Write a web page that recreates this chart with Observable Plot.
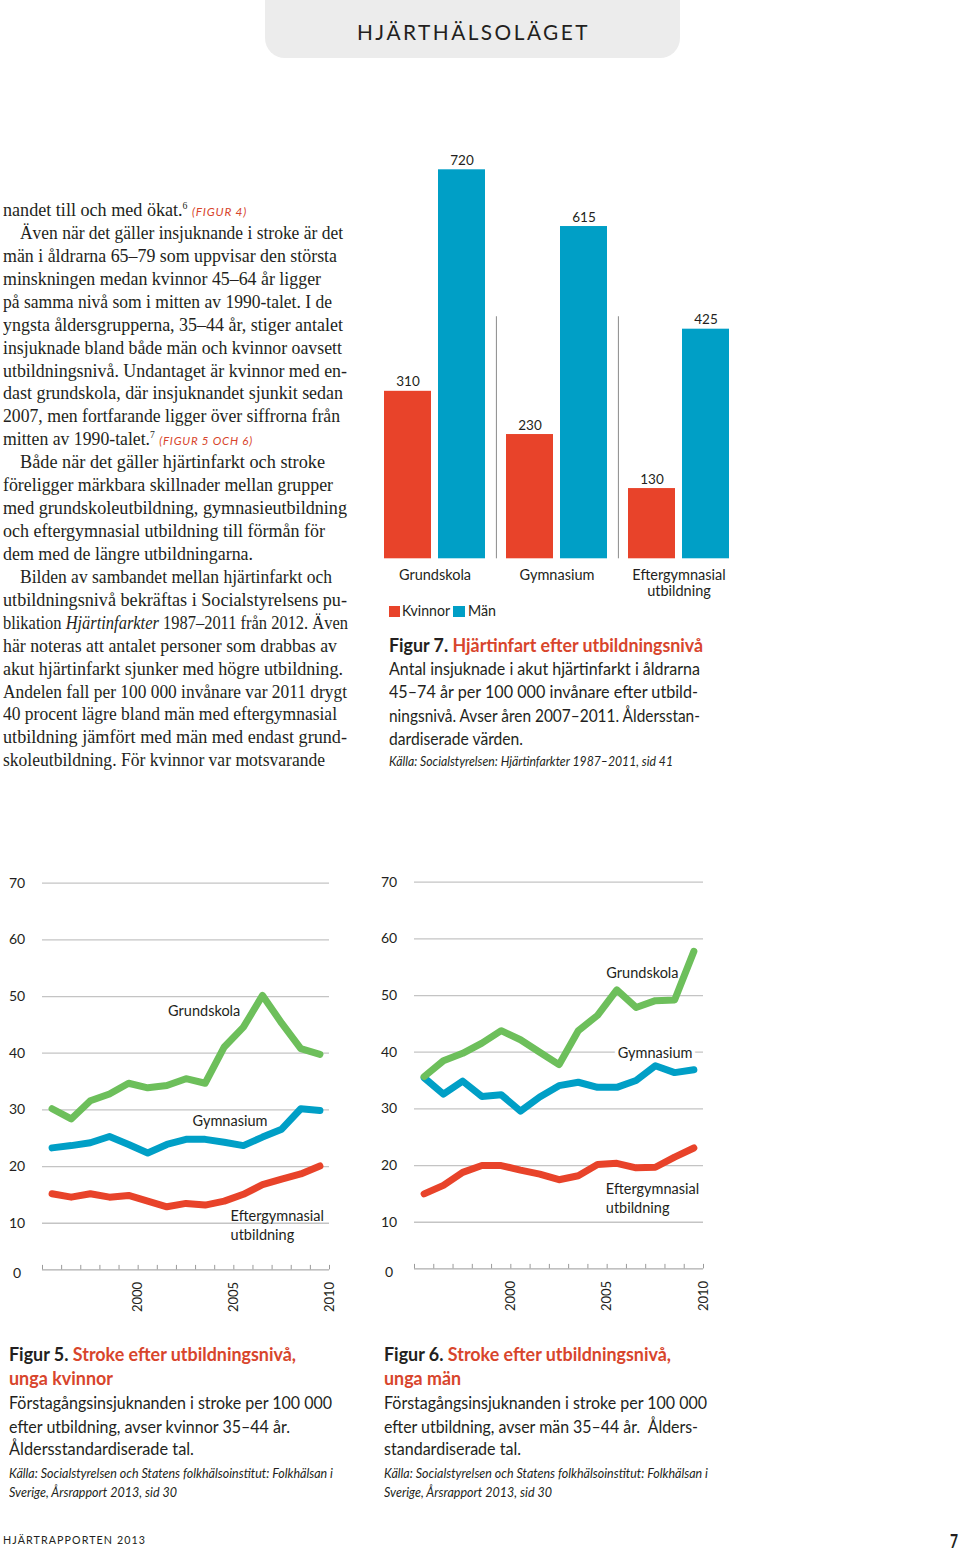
<!DOCTYPE html>
<html>
<head>
<meta charset="utf-8">
<script src="https://cdn.jsdelivr.net/npm/d3@7"></script>
<script src="https://cdn.jsdelivr.net/npm/@observablehq/plot@0.6"></script>
<style>
html,body{margin:0;padding:0;background:#fff;}
#page{position:relative;width:960px;height:1550px;overflow:hidden;font-family:Lato,"Open Sans",sans-serif;color:#231f20;}
.ln{position:absolute;white-space:nowrap;transform-origin:0 50%;}
.serif{font-family:"Liberation Serif",serif;font-size:18.5px;line-height:22px;}
.cap{font-size:18px;line-height:22px;}
.src{font-size:13px;font-style:italic;line-height:18px;}
.hdr{font-size:21px;line-height:26px;letter-spacing:2.5px;}
.foot{font-size:12px;line-height:16px;letter-spacing:1.2px;}
.pg{font-size:18px;line-height:22px;font-weight:bold;}
.leg{font-size:15px;line-height:20px;}
.red{color:#d8452c;}
.b{font-weight:bold;}
.fig{font-family:Lato,sans-serif;font-style:italic;font-size:12px;letter-spacing:0.8px;color:#d8452c;}
sup{font-size:10px;vertical-align:7px;line-height:0;}
.box{position:absolute;}
.chart{position:absolute;}
</style>
</head>
<body>
<div id="page"></div>
<script>
// ---------------- data ----------------
// Figur 7: hjärtinfarkt per 100 000, 45–74 år, 2007–2011
const eduLevels = ["Grundskola", "Gymnasium", "Eftergymnasial utbildning"];
const sexes = ["Kvinnor", "Män"];
const mi7Kvinnor = [310, 230, 130];
const mi7Man = [720, 615, 425];

// Figur 5 & 6: stroke per 100 000, 35–44 år
const strokeYears = [1996, 1997, 1998, 1999, 2000, 2001, 2002, 2003, 2004, 2005, 2006, 2007, 2008, 2009, 2010];
const seriesNames = ["Eftergymnasial", "Gymnasium", "Grundskola"];
const f5Grundskola     = [30.2, 28.4, 31.6, 32.8, 34.7, 33.9, 34.3, 35.5, 34.7, 41.1, 44.6, 50.2, 45.3, 40.8, 39.8];
const f5Gymnasium      = [23.3, 23.7, 24.2, 25.3, 23.9, 22.4, 23.9, 24.8, 24.8, 24.3, 23.7, 25.2, 26.6, 30.2, 29.9];
const f5Eftergymnasial = [15.2, 14.6, 15.2, 14.6, 14.9, 13.9, 12.9, 13.5, 13.2, 13.9, 15.1, 16.8, 17.8, 18.7, 20.1];
const f6Grundskola     = [35.7, 38.5, 39.8, 41.6, 43.8, 42.2, 40.0, 37.8, 43.8, 46.5, 51.0, 47.9, 49.1, 49.2, 57.8];
const f6Gymnasium      = [35.5, 32.6, 34.9, 32.2, 32.5, 29.6, 32.1, 34.1, 34.7, 33.8, 33.8, 35.0, 37.6, 36.4, 36.9];
const f6Eftergymnasial = [15.0, 16.5, 18.8, 20.0, 20.0, 19.2, 18.5, 17.5, 18.2, 20.2, 20.4, 19.6, 19.7, 21.5, 23.1];

const yTicks = [0, 10, 20, 30, 40, 50, 60, 70];
const xTickYears = [1995, 1996, 1997, 1998, 1999, 2000, 2001, 2002, 2003, 2004, 2005, 2006, 2007, 2008, 2009, 2010];
const xLabelYears = [2000, 2005, 2010];

// direct labels on the line charts (data units)
const f5Labels = [
  {text: "Grundskola", year: 2003.45, value: 47.7, anchor: "middle", halo: false},
  {text: "Gymnasium", year: 2004.8, value: 28.3, anchor: "middle", halo: false},
  {text: "Eftergymnasial\nutbildning", year: 2004.83, value: 9.8, anchor: "start", halo: false}
];
const f6Labels = [
  {text: "Grundskola", year: 2006.83, value: 54.2, anchor: "middle", halo: false},
  {text: "Gymnasium", year: 2007.49, value: 40.0, anchor: "middle", halo: true},
  {text: "Eftergymnasial\nutbildning", year: 2004.93, value: 14.3, anchor: "start", halo: false}
];

// ---------------- style ----------------
const ink = "#231f20";
const red = "#e8432a";
const blue = "#009fc6";
const green = "#6dbf5b";
const separatorTop = 448;

const page = document.getElementById("page");

function addLine(x, cy, html, cls, w, off) {
  const d = document.createElement("div");
  d.className = "ln " + cls;
  d.style.left = x + "px";
  d.style.top = (cy - off) + "px";
  d.innerHTML = html;
  if (w) d.dataset.w = w;
  page.appendChild(d);
  return d;
}
function addBox(x, y, w, h, css) {
  const d = document.createElement("div");
  d.className = "box";
  d.style.cssText = `left:${x}px;top:${y}px;width:${w}px;height:${h}px;` + css;
  page.appendChild(d);
  return d;
}

// header tab
addBox(265, -22, 415, 80, "background:#ececec;border-radius:20px;");
addLine(357, 33, "HJÄRTHÄLSOLÄGET", "hdr", 233, 13.6);

// body text (left column)
const bodyLines = [
  [3, 'nandet till och med ökat.<sup>6</sup> <span class="fig">(FIGUR 4)</span>', 244],
  [20, 'Även när det gäller insjuknande i stroke är det', 323],
  [3, 'män i åldrarna 65–79 som uppvisar den största', 334],
  [3, 'minskningen medan kvinnor 45–64 år ligger', 318],
  [3, 'på samma nivå som i mitten av 1990-talet. I de', 329],
  [3, 'yngsta åldersgrupperna, 35–44 år, stiger antalet', 340],
  [3, 'insjuknade bland både män och kvinnor oavsett', 339],
  [3, 'utbildningsnivå. Undantaget är kvinnor med en-', 344],
  [3, 'dast grundskola, där insjuknandet sjunkit sedan', 340],
  [3, '2007, men fortfarande ligger över siffrorna från', 337],
  [3, 'mitten av 1990-talet.<sup>7</sup> <span class="fig">(FIGUR 5 OCH 6)</span>', 250],
  [20, 'Både när det gäller hjärtinfarkt och stroke', 305],
  [3, 'föreligger märkbara skillnader mellan grupper', 330],
  [3, 'med grundskoleutbildning, gymnasieutbildning', 344],
  [3, 'och eftergymnasial utbildning till förmån för', 322],
  [3, 'dem med de längre utbildningarna.', 250],
  [20, 'Bilden av sambandet mellan hjärtinfarkt och', 312],
  [3, 'utbildningsnivå bekräftas i Socialstyrelsens pu-', 344],
  [3, 'blikation <i>Hjärtinfarkter</i> 1987–2011 från 2012. Även', 345],
  [3, 'här noteras att antalet personer som drabbas av', 334],
  [3, 'akut hjärtinfarkt sjunker med högre utbildning.', 340],
  [3, 'Andelen fall per 100 000 invånare var 2011 drygt', 344],
  [3, '40 procent lägre bland män med eftergymnasial', 334],
  [3, 'utbildning jämfört med män med endast grund-', 344],
  [3, 'skoleutbildning. För kvinnor var motsvarande', 322]
];
bodyLines.forEach(([x, html, w], i) => addLine(x, 209 + i * 22.93, html, "serif", w, 10));

// ---------------- Figur 7: bar chart ----------------
const barRows = eduLevels.flatMap((edu, i) => [
  {edu, sex: sexes[0], value: mi7Kvinnor[i]},
  {edu, sex: sexes[1], value: mi7Man[i]}
]);
const barChart = Plot.plot({
  width: 347, height: 460,
  marginTop: 29.3, marginBottom: 41.7, marginLeft: 0, marginRight: 0,
  style: {fontFamily: "Lato, sans-serif", fontSize: "14px", color: ink, background: "transparent", overflow: "visible"},
  fx: {domain: eduLevels, paddingInner: 0.156, paddingOuter: 0},
  x: {domain: sexes, paddingInner: 0.122, paddingOuter: 0, axis: null},
  y: {domain: [0, 720], axis: null},
  color: {domain: sexes, range: [red, blue]},
  marks: [
    Plot.ruleX(eduLevels.slice(1), {fx: d => d, x: () => sexes[0], y1: 0, y2: separatorTop, dx: -33.6, stroke: "#8a8a8a", strokeWidth: 1}),
    Plot.barY(barRows, {fx: "edu", x: "sex", y: "value", fill: "sex"}),
    Plot.text(barRows, {fx: "edu", x: "sex", y: "value", text: d => String(d.value), dy: -5, lineAnchor: "bottom", fontSize: 13.5, fill: ink}),
    Plot.axisFx({anchor: "bottom", tickSize: 0, tickPadding: 9, fontSize: 14.5, lineHeight: 1.15, label: null, tickFormat: d => d.replace(" ", "\n")})
  ]
});
const barWrap = document.createElement("div");
barWrap.className = "chart";
barWrap.style.left = "383px";
barWrap.style.top = "140px";
barWrap.appendChild(barChart);
page.appendChild(barWrap);

// legend
addBox(389, 606, 11, 11, `background:${red};`);
addLine(402, 611, "Kvinnor", "leg", 48, 11);
addBox(453, 606, 12, 11, `background:${blue};`);
addLine(468, 611, "Män", "leg", 28, 11);

// Figur 7 caption
addLine(389, 646, '<span class="b">Figur 7. </span><span class="b red">Hjärtinfart efter utbildningsnivå</span>', "cap", 314, 12.5);
addLine(389, 669.3, 'Antal insjuknade i akut hjärtinfarkt i åldrarna', "cap", 311, 12.5);
addLine(389, 692.7, '45–74 år per 100 000 invånare efter utbild-', "cap", 309, 12.5);
addLine(389, 716, 'ningsnivå. Avser åren 2007–2011. Åldersstan-', "cap", 311, 12.5);
addLine(389, 739.3, 'dardiserade värden.', "cap", 134, 12.5);
addLine(389, 761.7, 'Källa: Socialstyrelsen: Hjärtinfarkter 1987–2011, sid 41', "src", 284, 10);

// ---------------- Figur 5 & 6: line charts ----------------
function strokeChart(grund, gym, efter, labels, marginRight) {
  const rows = [
    ...strokeYears.map((year, i) => ({series: seriesNames[0], year, value: efter[i]})),
    ...strokeYears.map((year, i) => ({series: seriesNames[1], year, value: gym[i]})),
    ...strokeYears.map((year, i) => ({series: seriesNames[2], year, value: grund[i]}))
  ];
  const H = 460, MT = 22.7, MB = 50.6;
  const frameH = H - MT - MB;
  const txt = {x: "year", y: "value", text: "text", fontSize: 14.5, fill: ink, lineHeight: 1.3};
  const tickTxt = {y: d => d, text: d => String(d), frameAnchor: "left", textAnchor: "middle", dx: -25.5, fontSize: 14, fill: ink};
  return Plot.plot({
    width: 340, height: H,
    marginTop: MT, marginBottom: MB, marginLeft: 42, marginRight,
    style: {fontFamily: "Lato, sans-serif", fontSize: "14px", color: ink, background: "transparent", overflow: "visible"},
    x: {domain: [1995, 2010]},
    y: {domain: [0, 70], insetBottom: -10, axis: null},
    color: {domain: seriesNames, range: [red, blue, green]},
    marks: [
      Plot.ruleY(yTicks.filter(v => v > 0), {stroke: "#c4c4c4", strokeWidth: 1.3}),
      Plot.ruleY([0], {dy: -10, stroke: "#9a9a9a", strokeWidth: 1}),
      Plot.ruleX(xTickYears, {insetTop: frameH - 4.5, stroke: "#9a9a9a", strokeWidth: 1}),
      Plot.axisX({ticks: xLabelYears, tickSize: 0, tickPadding: 12, tickRotate: -90, fontSize: 13, tickFormat: d => String(d), label: null}),
      Plot.text(yTicks.filter(v => v > 0), tickTxt),
      Plot.text(yTicks.filter(v => v === 0), {...tickTxt, dy: -6}),
      Plot.line(rows, {x: d => d.year - 0.5, y: "value", z: "series", stroke: "series", strokeWidth: 7, strokeLinejoin: "round", strokeLinecap: "round"}),
      Plot.text(labels.filter(d => d.anchor === "middle" && !d.halo), {...txt, textAnchor: "middle"}),
      Plot.text(labels.filter(d => d.anchor === "middle" && d.halo), {...txt, textAnchor: "middle", stroke: "white", strokeWidth: 7, paintOrder: "stroke"}),
      Plot.text(labels.filter(d => d.anchor === "start"), {...txt, textAnchor: "start"})
    ]
  });
}
const f5 = strokeChart(f5Grundskola, f5Gymnasium, f5Eftergymnasial, f5Labels, 11);
const f5Wrap = document.createElement("div");
f5Wrap.className = "chart";
f5Wrap.style.left = "0px";
f5Wrap.style.top = "860px";
f5Wrap.appendChild(f5);
page.appendChild(f5Wrap);

const f6 = strokeChart(f6Grundskola, f6Gymnasium, f6Eftergymnasial, f6Labels, 9);
const f6Wrap = document.createElement("div");
f6Wrap.className = "chart";
f6Wrap.style.left = "372px";
f6Wrap.style.top = "859px";
f6Wrap.appendChild(f6);
page.appendChild(f6Wrap);

// Figur 5 caption
addLine(9.3, 1355, '<span class="b">Figur 5. </span><span class="b red">Stroke efter utbildningsnivå,</span>', "cap", 287, 12.5);
addLine(9.3, 1379, '<span class="b red">unga kvinnor</span>', "cap", 104, 12.5);
addLine(9.3, 1403, 'Förstagångsinsjuknanden i stroke per 100 000', "cap", 323, 12.5);
addLine(9.3, 1427, 'efter utbildning, avser kvinnor 35–44 år.', "cap", 281, 12.5);
addLine(9.3, 1449, 'Åldersstandardiserade tal.', "cap", 185, 12.5);
addLine(9.3, 1474, 'Källa: Socialstyrelsen och Statens folkhälsoinstitut: Folkhälsan i', "src", 324, 10);
addLine(9.3, 1493, 'Sverige, Årsrapport 2013, sid 30', "src", 168, 10);

// Figur 6 caption
addLine(384.3, 1355, '<span class="b">Figur 6. </span><span class="b red">Stroke efter utbildningsnivå,</span>', "cap", 287, 12.5);
addLine(384.3, 1379, '<span class="b red">unga män</span>', "cap", 77, 12.5);
addLine(384.3, 1403, 'Förstagångsinsjuknanden i stroke per 100 000', "cap", 323, 12.5);
addLine(384.3, 1427, 'efter utbildning, avser män 35–44 år.&nbsp; Ålders-', "cap", 314, 12.5);
addLine(384.3, 1449, 'standardiserade tal.', "cap", 137, 12.5);
addLine(384.3, 1474, 'Källa: Socialstyrelsen och Statens folkhälsoinstitut: Folkhälsan i', "src", 324, 10);
addLine(384.3, 1493, 'Sverige, Årsrapport 2013, sid 30', "src", 168, 10);

// footer
addLine(3, 1540, 'HJÄRTRAPPORTEN 2013', "foot", 143, 8.3);
addLine(950, 1541, '7', "pg", 8, 11.5);

function fit() {
  page.querySelectorAll("[data-w]").forEach(el => {
    el.style.transform = "none";
    const nat = el.getBoundingClientRect().width;
    if (nat > 0) el.style.transform = `scaleX(${(+el.dataset.w / nat).toFixed(4)})`;
  });
}
fit();
if (document.fonts && document.fonts.ready) document.fonts.ready.then(fit);
</script>
</body>
</html>
